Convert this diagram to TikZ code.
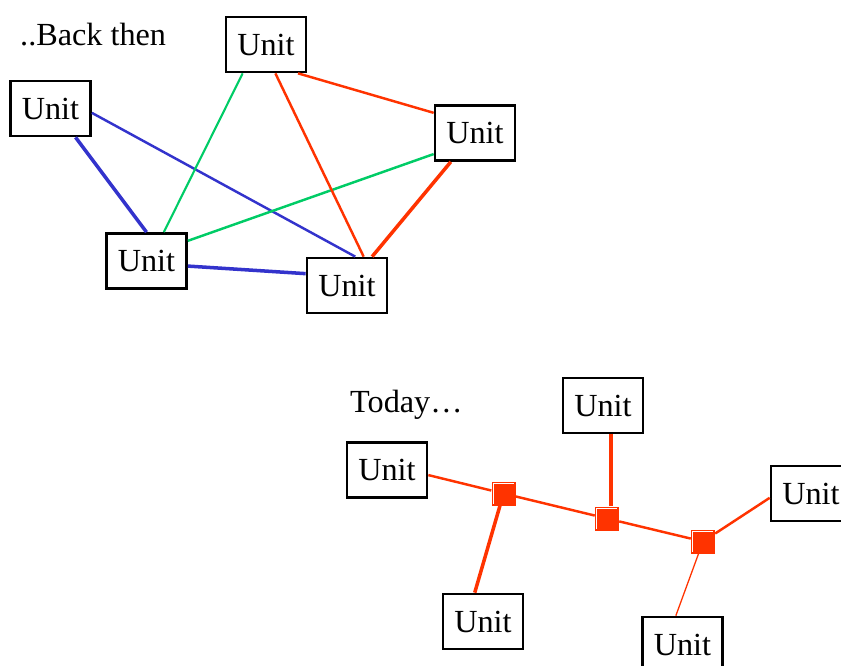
\documentclass[tikz,border=0pt]{standalone}
\usepackage{fontspec}
\setmainfont{Liberation Serif}
\usepackage{tikz}
\usetikzlibrary{positioning,calc}
\definecolor{linkred}{RGB}{255,51,0}
\definecolor{linkblue}{RGB}{51,51,204}
\definecolor{linkgreen}{RGB}{0,204,102}

\begin{document}
\begin{tikzpicture}[
  every node/.style={font=\fontsize{27.5}{32}\selectfont},
  unit/.style={draw=black, line width=2.3pt, fill=white,
               minimum width=2.4cm, minimum height=1.65cm, inner sep=0pt},
  hub/.style={fill=linkred, minimum size=0.72cm, inner sep=0pt,
              path picture={\draw[white, line width=0.35pt]
                ([shift={(0.05,0.05)}]path picture bounding box.south west)
                |- ([shift={(-0.05,-0.05)}]path picture bounding box.north east);}},
  lnk/.style={line width=2.1pt},
  fat/.style={line width=3pt},
  slim/.style={line width=1.1pt},
]
\useasboundingbox (0,0) rectangle (25.23,-19.98);
% the old way: every unit wired to every other
\node[anchor=base west, inner sep=0pt] (back) at (0.6,-1.38) {..Back then};
\node[unit] (uA) at (7.98,-1.335)  {Unit};
\node[unit] (uB) at (1.515,-3.255) {Unit};
\node[unit] (uC) at (4.395,-7.83)  {Unit};
\node[unit] (uD) at (10.41,-8.565) {Unit};
\node[unit] (uE) at (14.25,-3.99)  {Unit};
\draw[lnk, linkblue] (uB.-6.5) -- (uD.74);
\draw[fat, linkblue] (uB.-49) -- (uC.90);
\draw[fat, linkblue] (uC.-7) -- (uD.164);
\draw[lnk, linkgreen, line width=1.8pt] (uA.-129) -- (uC.59.5);
\draw[lnk, linkgreen] (uC.26) -- (uE.207);
\draw[lnk, linkred] (uA.-72.5) -- (uD.60);
\draw[lnk, linkred] (uA.-42.7) -- (uE.154);
\draw[fat, linkred] (uE.-130) -- (uD.49);
% the new way: units hang off a shared line
\node[anchor=base west, inner sep=0pt] (today) at (10.5,-12.38) {Today…};
\node[unit] (tTop)   at (18.09,-12.165)  {Unit};
\node[unit] (tLeft)  at (11.61,-14.1)    {Unit};
\node[unit] (tRight) at (24.33,-14.805)  {Unit};
\node[unit] (tBL)    at (14.49,-18.645)  {Unit};
\node[unit] (tBR)    at (20.475,-19.335) {Unit};
\node[hub] (h1) at (15.105,-14.805) {};
\node[hub] (h2) at (18.21,-15.555)  {};
\node[hub] (h3) at (21.09,-16.245)  {};
\draw[lnk, linkred] (tLeft.-7) -- (h1);
\draw[lnk, linkred] (h1) -- (h2);
\draw[lnk, linkred] (h2) -- (h3);
\draw[fat, linkred] ($(tTop.south)+(0.24,0)$) -- ($(h2.north)+(0.12,0)$);
\draw[fat, linkred] (h1) -- (tBL.106);
\draw[lnk, linkred] (h3) -- (tRight.186);
\draw[slim, linkred] (h3) -- (tBR.103);
\end{tikzpicture}
\end{document}
